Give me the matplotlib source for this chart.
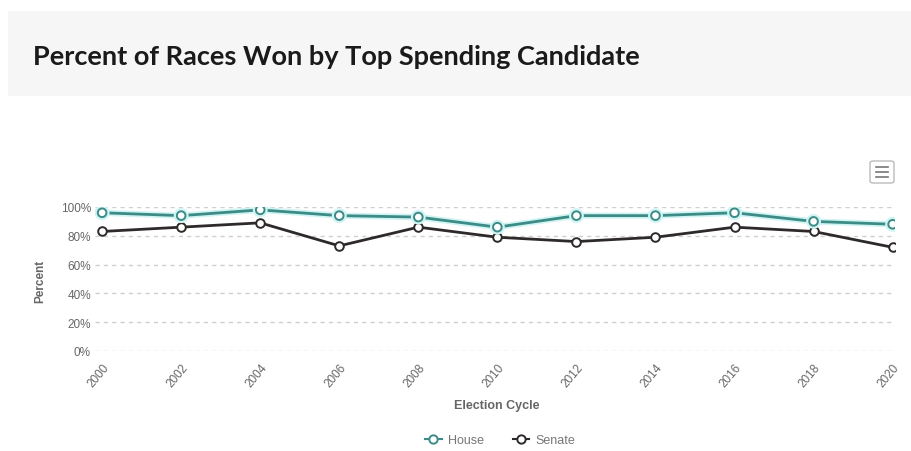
import matplotlib
matplotlib.use("Agg")
import matplotlib.pyplot as plt
import matplotlib.patheffects as pe
from matplotlib.patches import Rectangle, FancyBboxPatch

years = ["2000", "2002", "2004", "2006", "2008", "2010", "2012", "2014", "2016", "2018", "2020"]
house = [96, 94, 98, 94, 93, 86, 94, 94, 96, 90, 88]
senate = [83, 86, 89, 73, 86, 79, 76, 79, 86, 83, 72]
yticks = [0, 20, 40, 60, 80, 100]

W, H = 912, 452
fig = plt.figure(figsize=(W / 100, H / 100), dpi=100)
fig.patch.set_facecolor("white")

# title banner
fig.patches.append(Rectangle((8 / W, 1 - 97 / H), 1, 85 / H, transform=fig.transFigure,
                             facecolor="#f6f6f6", edgecolor="none", zorder=0))
fig.text(33 / W, 1 - 57 / H, "Percent of Races Won by Top Spending Candidate",
         fontsize=19.5, fontweight="bold", family="Lato", color="#1a1a1a", va="center", ha="left")

# menu button
fig.patches.append(FancyBboxPatch((870 / W, 1 - 184 / H), 24 / W, 22 / H, transform=fig.transFigure,
                                  boxstyle="round,pad=0,rounding_size=0.004",
                                  facecolor="white", edgecolor="#bbbbbb", linewidth=1))
for dy in (-5, 0, 5):
    yy = 1 - (173 + dy) / H
    fig.add_artist(plt.Line2D([876 / W, 888 / W], [yy, yy], transform=fig.transFigure,
                              color="#777777", linewidth=1.2))

ax = fig.add_axes([95 / W, 1 - 352 / H, 800 / W, 144 / H])
x = list(range(len(years)))
ax.set_xlim(-0.09, 10.03)
ax.set_ylim(0, 100)

ax.plot(x, house, color="#3c8b86", linewidth=2.0, marker="o", markersize=6.2,
        markerfacecolor="white", markeredgecolor="#3c8b86", markeredgewidth=1.4, zorder=4,
        path_effects=[pe.Stroke(linewidth=4.5, foreground="#cff4f3"), pe.Normal()], label="House")
ax.plot(x, senate, color="#2e2a2a", linewidth=2.0, marker="o", markersize=6.2,
        markerfacecolor="white", markeredgecolor="#2e2a2a", markeredgewidth=1.4, zorder=3,
        label="Senate")

ax.set_yticks(yticks)
ax.set_yticklabels([f"{v}%" for v in yticks], fontsize=8.5, color="#666666", family="Liberation Sans")
ax.set_xticks(x)
ax.set_xticklabels(years, rotation=50, ha="right", va="top", rotation_mode="anchor",
                   fontsize=8.5, color="#666666", family="Liberation Sans")
ax.tick_params(axis="both", length=0, pad=3)
ax.tick_params(axis="x", pad=7)
ax.grid(axis="y", color="#cfcfcf", linestyle=(0, (3, 3)), linewidth=1)
ax.set_axisbelow(True)
for s in ax.spines.values():
    s.set_visible(False)

fig.text(40 / W, 1 - 281 / H, "Percent", rotation=90, fontsize=8.5, fontweight="bold",
         color="#666666", family="Liberation Sans", ha="center", va="center")
fig.text(497 / W, 1 - 406 / H, "Election Cycle", fontsize=9, fontweight="bold",
         color="#666666", family="Liberation Sans", ha="center", va="center")

leg = fig.legend(loc="center", bbox_to_anchor=(500 / W, 1 - 441 / H), ncol=2, frameon=False,
                 handlelength=1.3, handletextpad=0.5, columnspacing=2.3,
                 prop={"family": "Liberation Sans", "size": 9})
for t in leg.get_texts():
    t.set_color("#777777")
for h in leg.legend_handles:
    h.set_path_effects([])
    h.set_linewidth(1.5)
    h.set_markersize(6)

fig.savefig("out.png", dpi=100, facecolor="white")
